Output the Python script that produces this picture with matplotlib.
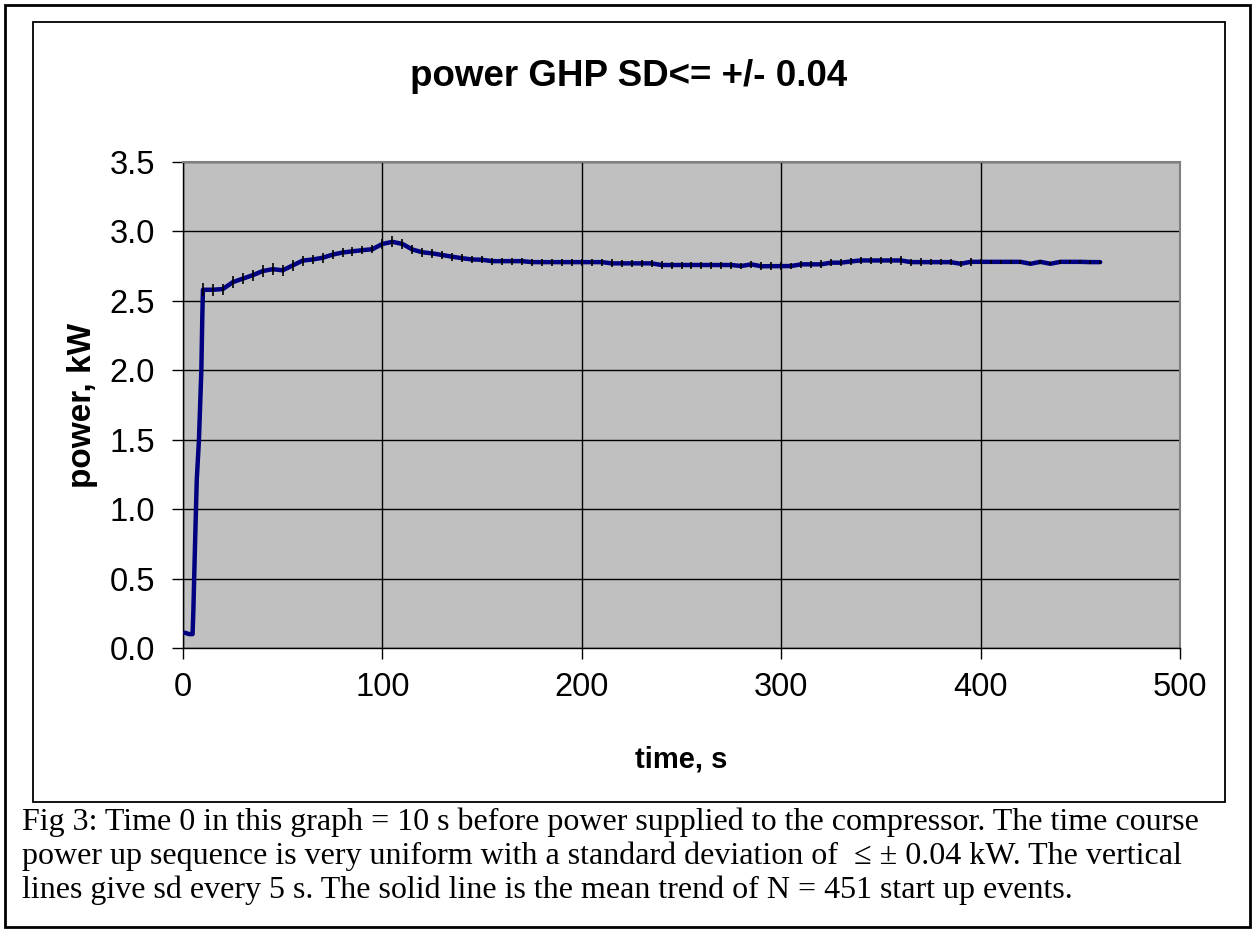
import numpy as np
import matplotlib
matplotlib.use("Agg")
import matplotlib.pyplot as plt
from matplotlib.patches import Rectangle

# -----------------------------
# data
# -----------------------------
# start-up part of the mean trend (before the 5 s grid takes over)
t_start = [1, 3, 4.8, 5.2, 6.0, 6.9, 8.0, 9.2, 9.7]
p_start = [0.11, 0.10, 0.10, 0.27, 0.73, 1.21, 1.50, 2.00, 2.40]

# mean trend, every 5 s from 10 s to 460 s
t_grid = list(range(10, 465, 5))
p_grid = [
    2.580, 2.580, 2.585, 2.635, 2.660, 2.685, 2.715, 2.728, 2.720, 2.755,   # 10-55
    2.790, 2.798, 2.810, 2.833, 2.848, 2.857, 2.865, 2.872, 2.910, 2.925,   # 60-105
    2.910, 2.870, 2.850, 2.842, 2.830, 2.818, 2.807, 2.798, 2.796, 2.786,   # 110-155
    2.786, 2.786, 2.786, 2.779, 2.779, 2.779, 2.779, 2.779, 2.779, 2.779,   # 160-205
    2.779, 2.770, 2.770, 2.770, 2.770, 2.770, 2.758, 2.758, 2.758, 2.758,   # 210-255
    2.758, 2.758, 2.758, 2.758, 2.751, 2.763, 2.749, 2.750, 2.750, 2.751,   # 260-305
    2.763, 2.763, 2.763, 2.775, 2.775, 2.784, 2.791, 2.791, 2.791, 2.791,   # 310-355
    2.791, 2.779, 2.779, 2.779, 2.779, 2.779, 2.767, 2.781, 2.781, 2.781,   # 360-405
    2.781, 2.781, 2.781, 2.767, 2.781, 2.767, 2.781, 2.781, 2.781, 2.779,   # 410-455
    2.779,                                                                  # 460
]

# standard deviation bars, every 5 s
sd_grid = [
    0.048, 0.045, 0.040, 0.042, 0.040, 0.040, 0.040, 0.042, 0.040, 0.038,
    0.036, 0.034, 0.034, 0.034, 0.032, 0.032, 0.030, 0.030, 0.034, 0.040,
    0.036, 0.034, 0.032, 0.030, 0.030, 0.028, 0.028, 0.026, 0.025, 0.025,
    0.025, 0.025, 0.025, 0.025, 0.025, 0.025, 0.025, 0.025, 0.025, 0.025,
    0.025, 0.028, 0.025, 0.025, 0.025, 0.025, 0.028, 0.025, 0.025, 0.025,
    0.025, 0.025, 0.025, 0.025, 0.025, 0.025, 0.028, 0.028, 0.030, 0.025,
    0.025, 0.025, 0.028, 0.025, 0.025, 0.025, 0.025, 0.025, 0.025, 0.025,
    0.032, 0.025, 0.028, 0.020, 0.020, 0.020, 0.020, 0.030, 0.018, 0.015,
    0.015, 0.015, 0.015, 0.012, 0.012, 0.012, 0.012, 0.010, 0.010, 0.010,
    0.010,
]

x_ticks = [0, 100, 200, 300, 400, 500]
y_ticks = [0.0, 0.5, 1.0, 1.5, 2.0, 2.5, 3.0, 3.5]

title = "power GHP SD<= +/- 0.04"
caption_lines = [
    "Fig 3: Time 0 in this graph = 10 s before power supplied to the compressor. The time course",
    "power up sequence is very uniform with a standard deviation of  \u2264 \u00b1 0.04 kW. The vertical",
    "lines give sd every 5 s. The solid line is the mean trend of N = 451 start up events.",
]

# -----------------------------
# figure
# -----------------------------
W, H = 1255, 930
fig = plt.figure(figsize=(W / 100, H / 100), dpi=100)

def fx(px):
    return px / W

def fy(py):
    return 1 - py / H

# outer frame and chart area frame
fig.patches.append(Rectangle((fx(5), fy(927)), fx(1250) - fx(5), fy(5) - fy(927),
                             transform=fig.transFigure, fill=False, lw=2, ec="black"))
fig.patches.append(Rectangle((fx(33), fy(802)), fx(1225) - fx(33), fy(22) - fy(802),
                             transform=fig.transFigure, fill=False, lw=1.3, ec="black"))

ax = fig.add_axes([fx(183), fy(648), fx(1180) - fx(183), fy(162) - fy(648)])
ax.set_facecolor("#C0C0C0")

ax.set_xlim(0, 500)
ax.set_ylim(0, 3.5)
ax.set_xticks(x_ticks)
ax.set_yticks(y_ticks)
ax.set_yticklabels([f"{v:.1f}" for v in y_ticks])
ax.grid(True, color="black", lw=1.0)
ax.set_axisbelow(True)

for side in ["top", "right"]:
    ax.spines[side].set_color("#808080")
    ax.spines[side].set_linewidth(1.5)
for side in ["left", "bottom"]:
    ax.spines[side].set_color("black")
    ax.spines[side].set_linewidth(1.0)

ax.tick_params(axis="both", direction="out", length=8, width=1.0, labelsize=23.5)
ax.tick_params(axis="x", pad=9)
ax.tick_params(axis="y", pad=12)
for lab in ax.get_xticklabels() + ax.get_yticklabels():
    lab.set_fontfamily("Liberation Sans")

# mean trend line
t_all = t_start + t_grid
p_all = p_start + p_grid
ax.plot(t_all, p_all, color="#000080", lw=3.2, solid_joinstyle="round",
        solid_capstyle="round", zorder=3)

# sd bars every 5 s
ax.errorbar(t_grid, p_grid, yerr=sd_grid, fmt="none", ecolor="black",
            elinewidth=1.2, capsize=0, zorder=4)

ax.set_xlabel("time, s", fontsize=21, fontweight="bold",
              fontfamily="Liberation Sans", labelpad=31)
ax.set_ylabel("power, kW", fontsize=24, fontweight="bold",
              fontfamily="Liberation Sans", labelpad=8)

fig.text(fx(629), fy(77), title, ha="center", va="center", fontsize=26.5,
         fontweight="bold", fontfamily="Liberation Sans")

for i, line in enumerate(caption_lines):
    fig.text(fx(22), fy(822 + 34 * i), line, ha="left", va="center",
             fontsize=23, fontfamily="Liberation Serif")

fig.savefig("out.png", dpi=100)
